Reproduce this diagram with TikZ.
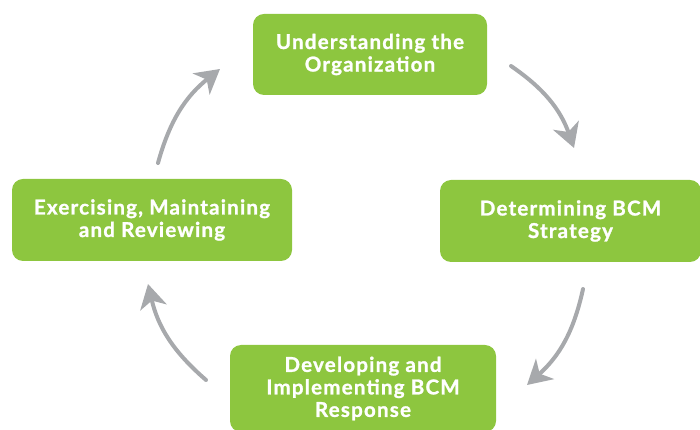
\documentclass[tikz,border=0pt]{standalone}
\usepackage{fontspec}
\setmainfont{Lato}[BoldFeatures={FakeBold=1.2,LetterSpace=6}]
\usetikzlibrary{arrows.meta}
\definecolor{leaf}{HTML}{8DC63F}
\definecolor{arrowgray}{HTML}{A7A9AC}
\begin{document}
\begin{tikzpicture}[x=1pt,y=1pt,
  phase/.style={fill=leaf, rounded corners=11pt, text=white,
    font=\fontsize{20.5}{22.5}\selectfont\bfseries, align=center,
    inner sep=0pt},
  cyclearrow/.style={draw=arrowgray, line width=4pt, line cap=round,
    -{Stealth[length=24pt,width=27pt,inset=7pt]}, bend left=18}]
  \useasboundingbox (0,0) rectangle (700,430);
  \clip (0,0) rectangle (700,430);

  % the four phases of the cycle
  \node[phase, minimum width=234pt, minimum height=81pt] (org) at (370,375.5)
    {Understanding the\\Organization};
  \node[phase, minimum width=261pt, minimum height=82pt] (strategy) at (570.5,209)
    {Determining BCM\\Strategy};
  \node[phase, minimum width=266pt, minimum height=87pt] (response) at (363,41.5)
    {Developing and\\Implementing BCM\\Response};
  \node[phase, minimum width=280pt, minimum height=82pt] (review) at (152,210)
    {Exercising, Maintaining\\and Reviewing};

  % free ends of the cycle arrows
  \coordinate (a1s) at (511,364); \coordinate (a1e) at (574,282);
  \coordinate (a2s) at (583,141); \coordinate (a2e) at (527,45);
  \coordinate (a3s) at (206,50);  \coordinate (a3e) at (148,146);
  \coordinate (a4s) at (158,267); \coordinate (a4e) at (220,361);

  \draw[cyclearrow] (a1s) to (a1e);
  \draw[cyclearrow] (a2s) to (a2e);
  \draw[cyclearrow] (a3s) to (a3e);
  \draw[cyclearrow] (a4s) to (a4e);
\end{tikzpicture}
\end{document}
